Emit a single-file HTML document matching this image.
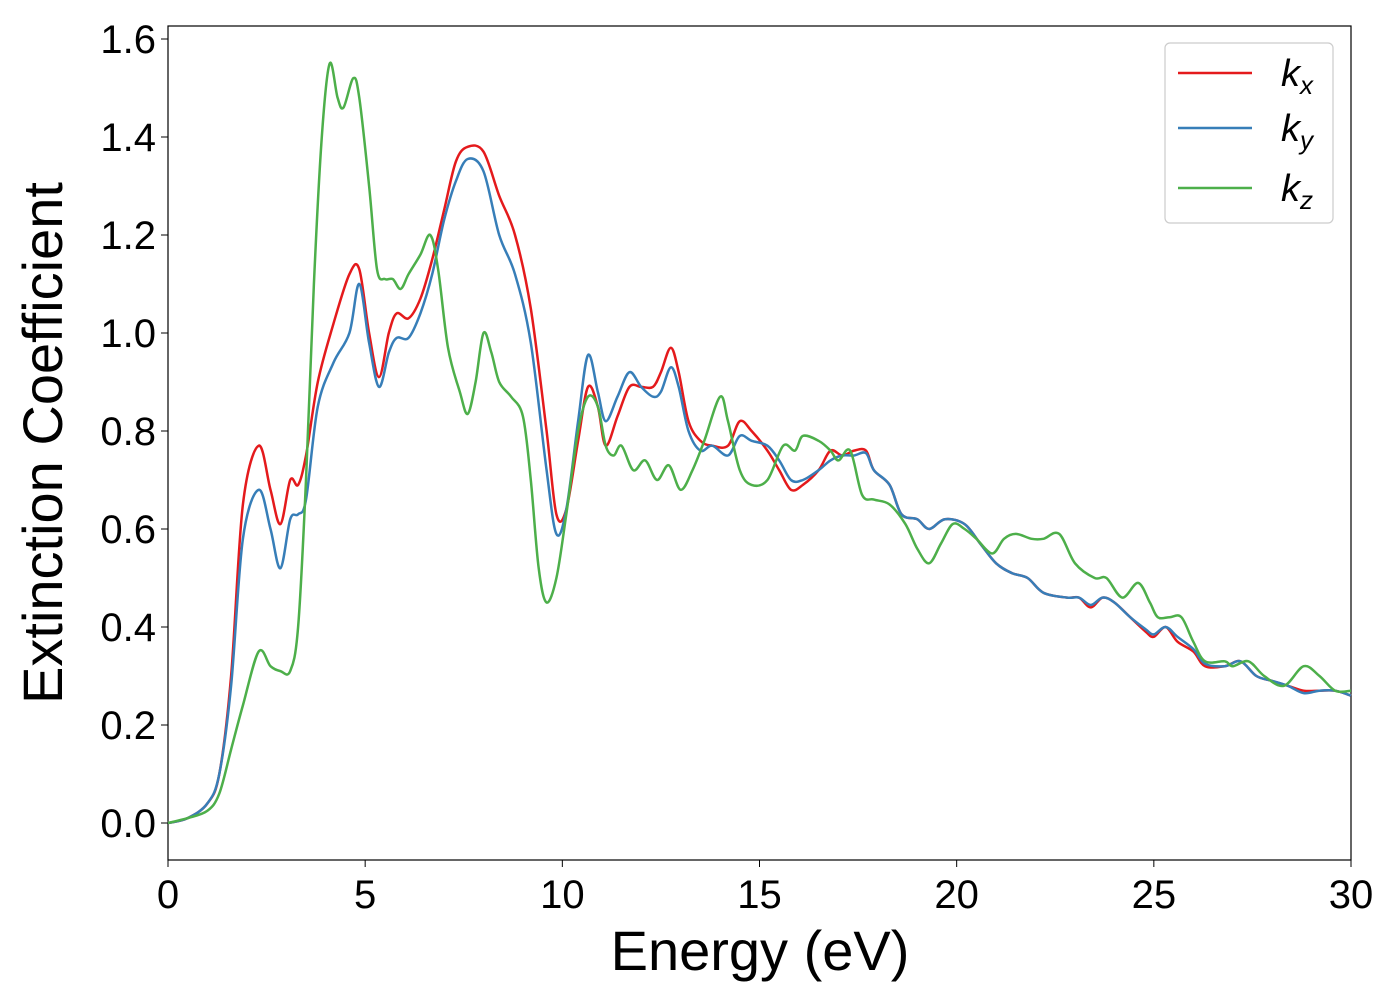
<!DOCTYPE html>
<html><head><meta charset="utf-8"><style>
html,body{margin:0;padding:0;background:#fff;width:1400px;height:1000px;overflow:hidden}
text{font-family:"Liberation Sans","DejaVu Sans",sans-serif}
</style></head><body>
<svg id="chart" width="1400" height="1000" xmlns="http://www.w3.org/2000/svg">
<rect x="168" y="26" width="1183" height="834" fill="#fff" stroke="#000" stroke-width="1.2"/>
<g id="series"></g>
<g id="ticks"></g>
<text x="760" y="970" font-size="56" text-anchor="middle">Energy (eV)</text>
<text transform="translate(62,443) rotate(-90)" font-size="56" text-anchor="middle">Extinction Coefficient</text>
<g>
<rect x="1165" y="43" width="168" height="180" rx="5" fill="#fff" stroke="#ccc" stroke-width="1.2"/>
<line x1="1178" y1="73" x2="1252" y2="73" stroke="#e41a1c" stroke-width="2.5"/>
<text x="1281" y="86" font-size="38" font-style="italic">k<tspan font-size="26" dy="8">x</tspan></text>
<line x1="1178" y1="128" x2="1252" y2="128" stroke="#377eb8" stroke-width="2.5"/>
<text x="1281" y="141" font-size="38" font-style="italic">k<tspan font-size="26" dy="8">y</tspan></text>
<line x1="1178" y1="188" x2="1252" y2="188" stroke="#4daf4a" stroke-width="2.5"/>
<text x="1281" y="201" font-size="38" font-style="italic">k<tspan font-size="26" dy="8">z</tspan></text>
</g>
</svg>
<script>
const xTicks=[0,5,10,15,20,25,30];
const yTicks=[0.0,0.2,0.4,0.6,0.8,1.0,1.2,1.4,1.6];
const energyX=[0,0.5,1,1.3,1.6,1.9,2.3,2.6,2.85,3.1,3.3,3.5,3.8,4.2,4.6,4.85,5.1,5.35,5.6,5.8,6.1,6.4,6.7,7.0,7.3,7.6,8.0,8.4,8.8,9.2,9.6,9.85,10.1,10.4,10.65,10.9,11.1,11.4,11.7,12.0,12.3,12.5,12.75,12.95,13.2,13.5,13.8,14.2,14.5,14.8,15.2,15.5,15.8,16.1,16.5,16.8,17.1,17.4,17.7,17.9,18.3,18.6,19.0,19.3,19.7,20.2,20.6,21.0,21.4,21.8,22.2,22.8,23.1,23.4,23.7,24.0,24.4,24.8,25.0,25.3,25.6,26.0,26.3,26.8,27.2,27.6,28.0,28.4,28.8,29.2,29.6,30];
const kxValues=[0,0.01,0.04,0.1,0.3,0.65,0.77,0.68,0.61,0.7,0.69,0.75,0.9,1.02,1.12,1.13,1.0,0.91,1.0,1.04,1.03,1.07,1.15,1.25,1.35,1.38,1.37,1.28,1.2,1.05,0.8,0.63,0.64,0.78,0.89,0.85,0.77,0.83,0.89,0.89,0.89,0.92,0.97,0.92,0.82,0.78,0.77,0.77,0.82,0.8,0.76,0.72,0.68,0.69,0.72,0.76,0.75,0.76,0.76,0.72,0.69,0.63,0.62,0.6,0.62,0.61,0.57,0.53,0.51,0.5,0.47,0.46,0.46,0.44,0.46,0.45,0.42,0.39,0.38,0.4,0.37,0.35,0.32,0.32,0.33,0.3,0.29,0.28,0.27,0.27,0.27,0.26];
const kyValues=[0,0.01,0.04,0.1,0.28,0.58,0.68,0.6,0.52,0.62,0.63,0.66,0.85,0.94,1.0,1.1,0.98,0.89,0.96,0.99,0.99,1.04,1.12,1.23,1.31,1.355,1.33,1.2,1.12,0.98,0.72,0.59,0.64,0.82,0.955,0.88,0.82,0.87,0.92,0.89,0.87,0.88,0.93,0.89,0.8,0.76,0.77,0.75,0.79,0.78,0.77,0.74,0.7,0.7,0.72,0.74,0.75,0.75,0.755,0.72,0.69,0.63,0.62,0.6,0.62,0.61,0.57,0.53,0.51,0.5,0.47,0.46,0.46,0.445,0.46,0.45,0.42,0.395,0.385,0.4,0.38,0.355,0.325,0.32,0.33,0.3,0.29,0.28,0.265,0.27,0.27,0.26];
const energyZ=[0,0.5,1,1.3,1.6,1.9,2.3,2.6,2.85,3.1,3.3,3.5,3.7,3.9,4.1,4.3,4.45,4.7,4.85,5.1,5.3,5.5,5.7,5.9,6.1,6.4,6.65,6.85,7.1,7.4,7.6,7.8,8.0,8.2,8.4,8.7,9.0,9.2,9.4,9.6,9.85,10.1,10.4,10.65,10.9,11.1,11.3,11.5,11.8,12.1,12.4,12.7,13.0,13.3,13.6,14.0,14.2,14.5,14.8,15.2,15.6,15.9,16.1,16.5,16.8,17.0,17.3,17.6,17.9,18.3,18.7,19.0,19.3,19.6,19.9,20.2,20.5,20.9,21.2,21.5,21.9,22.2,22.6,23.0,23.5,23.8,24.2,24.6,24.9,25.1,25.4,25.7,26.0,26.3,26.8,27.0,27.4,27.8,28.3,28.8,29.2,29.6,30];
const kzValues=[0,0.01,0.025,0.06,0.15,0.24,0.35,0.32,0.31,0.31,0.4,0.7,1.1,1.4,1.55,1.48,1.46,1.52,1.48,1.3,1.13,1.11,1.11,1.09,1.12,1.16,1.2,1.13,0.97,0.88,0.835,0.9,1.0,0.96,0.9,0.87,0.83,0.7,0.52,0.45,0.5,0.63,0.8,0.87,0.85,0.77,0.75,0.77,0.72,0.74,0.7,0.73,0.68,0.72,0.78,0.87,0.82,0.72,0.69,0.7,0.77,0.76,0.79,0.78,0.76,0.74,0.76,0.67,0.66,0.65,0.61,0.56,0.53,0.57,0.61,0.6,0.58,0.55,0.58,0.59,0.58,0.58,0.59,0.53,0.5,0.5,0.46,0.49,0.45,0.42,0.42,0.42,0.37,0.33,0.33,0.32,0.33,0.3,0.28,0.32,0.3,0.27,0.27];

const X0=168,X1=1351,Y0=823,YS=490;
function xs(v){return X0+(X1-X0)*v/30;}
function ys(v){return Y0-YS*v;}
const NS="http://www.w3.org/2000/svg";
function pathFor(xa,ya){
  const p=xa.map((x,i)=>[xs(x),ys(ya[i])]);
  let d="M"+p[0][0].toFixed(1)+","+p[0][1].toFixed(1);
  for(let i=0;i<p.length-1;i++){
    const a=p[Math.max(i-1,0)],b=p[i],c=p[i+1],e=p[Math.min(i+2,p.length-1)];
    const c1=[b[0]+(c[0]-a[0])/6,b[1]+(c[1]-a[1])/6],c2=[c[0]-(e[0]-b[0])/6,c[1]-(e[1]-b[1])/6];
    d+="C"+c1[0].toFixed(1)+","+c1[1].toFixed(1)+" "+c2[0].toFixed(1)+","+c2[1].toFixed(1)+" "+c[0].toFixed(1)+","+c[1].toFixed(1);
  }
  return d;
}
const g=document.getElementById("series");
[[energyX,kxValues,"#e41a1c","line-kx"],[energyX,kyValues,"#377eb8","line-ky"],[energyZ,kzValues,"#4daf4a","line-kz"]].forEach(s=>{
  const el=document.createElementNS(NS,"path");
  el.setAttribute("d",pathFor(s[0],s[1]));
  el.setAttribute("fill","none");el.setAttribute("stroke",s[2]);el.setAttribute("stroke-width","2.5");
  
  
  g.appendChild(el);
});
const t=document.getElementById("ticks");
xTicks.forEach(v=>{
  const l=document.createElementNS(NS,"line");
  l.setAttribute("x1",xs(v));l.setAttribute("x2",xs(v));l.setAttribute("y1",860);l.setAttribute("y2",867);l.setAttribute("stroke","#000");
  
  
  t.appendChild(l);
  const tx=document.createElementNS(NS,"text");
  tx.setAttribute("x",xs(v));tx.setAttribute("y",908);tx.setAttribute("font-size","40");tx.setAttribute("text-anchor","middle");
  tx.textContent=String(v);
  
  
  t.appendChild(tx);
});
yTicks.forEach(v=>{
  const l=document.createElementNS(NS,"line");
  l.setAttribute("x1",161);l.setAttribute("x2",168);l.setAttribute("y1",ys(v));l.setAttribute("y2",ys(v));l.setAttribute("stroke","#000");
  
  
  t.appendChild(l);
  const tx=document.createElementNS(NS,"text");
  tx.setAttribute("x",156);tx.setAttribute("y",ys(v)+14);tx.setAttribute("font-size","40");tx.setAttribute("text-anchor","end");
  tx.textContent=v.toFixed(1);
  
  
  t.appendChild(tx);
});
</script>
</body></html>
